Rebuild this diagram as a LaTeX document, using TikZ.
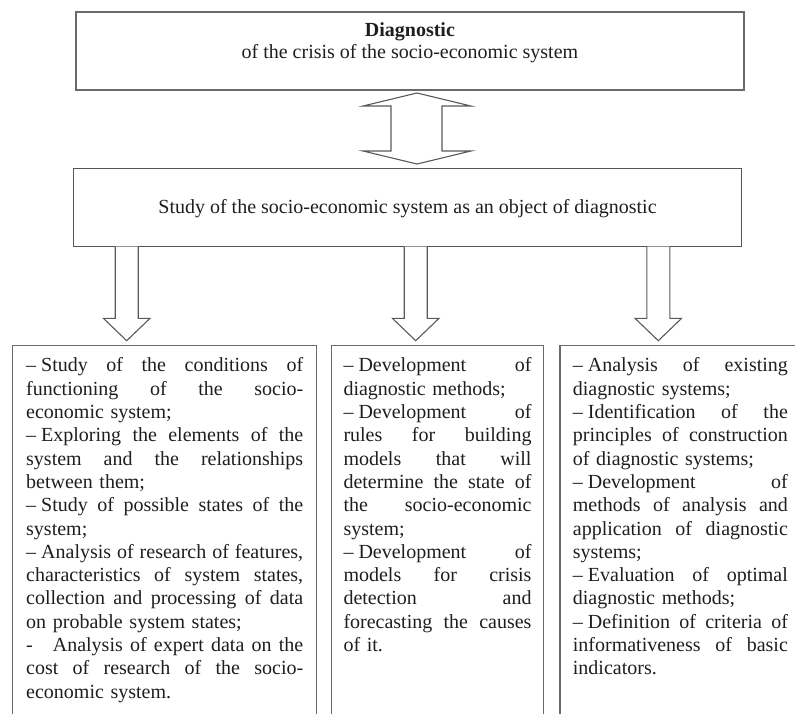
\documentclass[tikz,border=0pt]{standalone}
\usepackage{fontspec}
\setmainfont{Liberation Serif}
\definecolor{edge}{HTML}{6A6A6A}
\definecolor{ink}{HTML}{1E1E1E}
\newcommand\J[2]{\leavevmode\hbox to #1{\frenchspacing\spaceskip=0.25em plus 1fil\relax #2}}
\newcommand\JL[1]{\J{277pt}{#1}}
\newcommand\JM[1]{\J{188pt}{#1}}
\newcommand\JR[1]{\J{215pt}{#1}}
\newcommand\D{–\hspace{0.25em}}
\newcommand\downblock[1]{%
  \draw[blockarrow] (#1-11.5,246.7) -- (#1-11.5,318.3) -- (#1-23.3,318.3) -- (#1,340.7)
    -- (#1+23.3,318.3) -- (#1+11.5,318.3) -- (#1+11.5,246.7);}
\begin{document}
\begin{tikzpicture}[x=1pt,y=-1pt,
  topbox/.style={draw=edge,line width=1.8pt,minimum width=668.3pt,minimum height=78pt,inner sep=0pt},
  midbox/.style={draw=edge!80!black,line width=1.2pt,minimum width=668.4pt,minimum height=78.4pt,inner sep=0pt},
  colbox/.style={draw=edge,line width=1.5pt},
  blockarrow/.style={draw=edge!85!black,line width=1.1pt,fill=white,line join=miter},
  txt/.style={text=ink,font=\fontsize{20}{23.3}\selectfont,inner sep=0pt},
  coltxt/.style={txt,anchor=north west,align=left}]
\useasboundingbox (0,0) rectangle (795,713);
\clip (0,0) rectangle (795,713);
% top box
\node[topbox] (top) at (409.9,51) {};
\node[txt,anchor=base] (toptitle) at (409.9,36) {\bfseries Diagnostic};
\node[txt,anchor=base] (topsub) at (409.9,58) {of the crisis of the socio-economic system};
% double arrow
\draw[blockarrow] (391,106) -- (363,106) -- (417,93) -- (471,106) -- (442,106) -- (442,151)
  -- (471,151) -- (417,164) -- (363,151) -- (391,151) -- cycle;
% second box
\node[midbox] (study) at (407.5,207.5) {};
\node[txt,anchor=base] (studytxt) at (407.5,213) {Study of the socio-economic system as an object of diagnostic};
% down arrows
\downblock{126.7}
\downblock{415.7}
\downblock{658.3}
% column boxes
\draw[colbox] (12.7,740) -- (12.7,345.7) -- (316.7,345.7) -- (316.7,740);
\draw[colbox] (331.7,740) -- (331.7,345.7) -- (543.3,345.7) -- (543.3,740);
\draw[colbox] (560,740) -- (560,345.7) -- (801,345.7) -- (801,740);
\node[coltxt,text width=277pt] (lefttxt) at (26,355.4) {\strut\JL{\D Study of the conditions of}\\
\JL{functioning of the socio-}\\
economic system;\\
\JL{\D Exploring the elements of the}\\
\JL{system and the relationships}\\
between them;\\
\JL{\D Study of possible states of the}\\
system;\\
\JL{\D Analysis of research of features,}\\
\JL{characteristics of system states,}\\
\JL{collection and processing of data}\\
on probable system states;\\
\JL{-\hspace{20pt}Analysis of expert data on the}\\
\JL{cost of research of the socio-}\\
economic system.};
\node[coltxt,text width=188pt] (midtxt) at (343.3,355.4) {\strut\JM{\D Development of}\\
diagnostic methods;\\
\JM{\D Development of}\\
\JM{rules for building}\\
\JM{models that will}\\
\JM{determine the state of}\\
\JM{the socio-economic}\\
system;\\
\JM{\D Development of}\\
\JM{models for crisis}\\
\JM{detection and}\\
\JM{forecasting the causes}\\
of it.};
\node[coltxt,text width=215pt] (righttxt) at (572.7,355.4) {\strut\JR{\D Analysis of existing}\\
diagnostic systems;\\
\JR{\D Identification of the}\\
\JR{principles of construction}\\
of diagnostic systems;\\
\JR{\D Development of}\\
\JR{methods of analysis and}\\
\JR{application of diagnostic}\\
systems;\\
\JR{\D Evaluation of optimal}\\
diagnostic methods;\\
\JR{\D Definition of criteria of}\\
\JR{informativeness of basic}\\
indicators.};
\end{tikzpicture}
\end{document}
